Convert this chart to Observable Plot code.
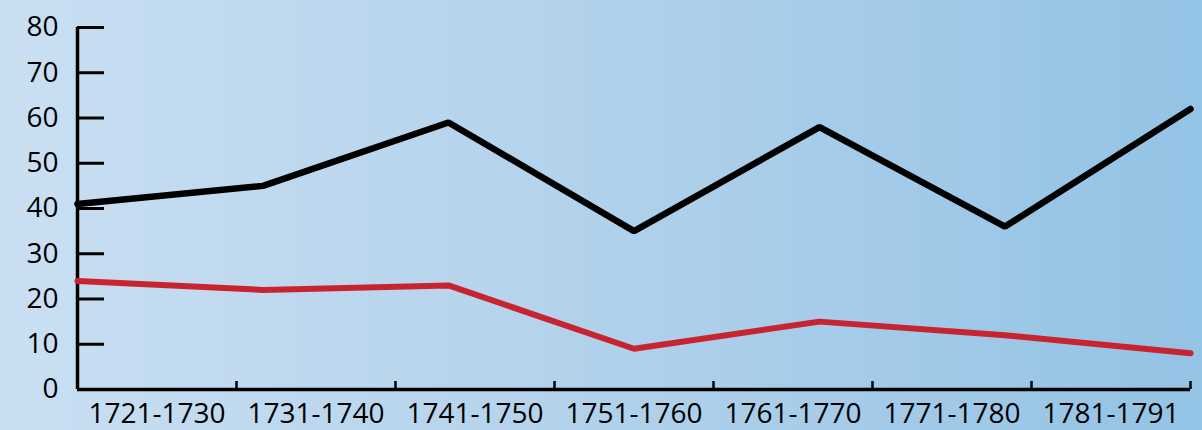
<!DOCTYPE html>
<html>
<head>
<meta charset="utf-8">
<script src="https://cdn.jsdelivr.net/npm/d3@7"></script>
<script src="https://cdn.jsdelivr.net/npm/@observablehq/plot@0.6"></script>
<style>
  html, body { margin: 0; padding: 0; background: #b5d4ec; }
  #chart svg { display: block; }
</style>
</head>
<body>
<div id="chart"></div>
<script>
const periods = ["1721-1730", "1731-1740", "1741-1750", "1751-1760", "1761-1770", "1771-1780", "1781-1791"];
const blackValues = [41, 45, 59, 35, 58, 36, 62];
const redValues = [24, 22, 23, 9, 15, 12, 8];
const yTicks = [0, 10, 20, 30, 40, 50, 60, 70, 80];

const n = periods.length;
const pointX = (d, i) => i * n / (blackValues.length - 1);
const boundaries = d3.range(1, n + 1);

const chart = Plot.plot({
  width: 1202,
  height: 430,
  marginLeft: 77,
  marginRight: 12,
  marginTop: 27,
  marginBottom: 41,
  style: {
    background: "linear-gradient(to right, #cadff2 0%, #b4d3ec 45%, #93c3e5 100%)",
    fontFamily: "'Open Sans', sans-serif",
    color: "#000"
  },
  x: { domain: [0, n], axis: null },
  y: { domain: [0, 80], axis: null },
  marks: [
    Plot.axisY(yTicks, { tickSize: -27, tickFormat: () => "", strokeWidth: 3, stroke: "#000" }),
    Plot.axisY(yTicks, { tickSize: 0, tickPadding: 19, fontSize: 28, fill: "#000" }),
    Plot.axisX(boundaries, { tickSize: -8, tickFormat: () => "", strokeWidth: 2.5, stroke: "#000" }),
    Plot.text(periods, { x: (d, i) => i + 0.5, y: () => 0, text: d => d, dy: 25, fontSize: 28, fill: "#000" }),
    Plot.ruleX([0], { y1: 0, y2: 80, strokeWidth: 3.5, stroke: "#000" }),
    Plot.ruleY([0], { x1: 0, x2: n, strokeWidth: 3.5, stroke: "#000" }),
    Plot.line(redValues, { x: pointX, y: d => d, stroke: "#c8242f", strokeWidth: 6, strokeLinejoin: "miter" }),
    Plot.line(blackValues, { x: pointX, y: d => d, stroke: "#000", strokeWidth: 6.5, strokeLinecap: "round", strokeLinejoin: "miter" })
  ]
});
document.getElementById("chart").appendChild(chart);
</script>
</body>
</html>
